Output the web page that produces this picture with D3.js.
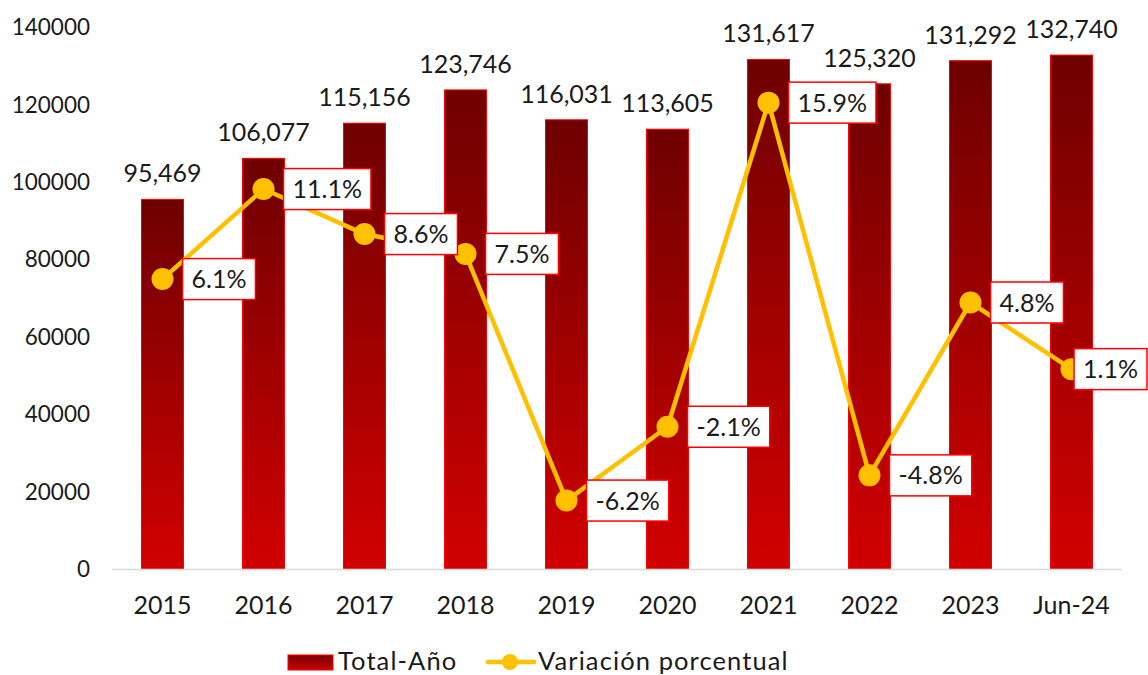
<!DOCTYPE html>
<html>
<head>
<meta charset="utf-8">
<script src="https://cdn.jsdelivr.net/npm/d3@7"></script>
<style>
  body { margin: 0; background: #ffffff; }
  svg { display: block; font-family: "Lato", "DejaVu Sans", sans-serif; }
  .tickLabel { font-size: 22.5px; fill: #1a1a1a; }
  .catLabel { font-size: 25px; fill: #1a1a1a; }
  .valueLabel { font-size: 25px; fill: #1a1a1a; }
  .pctLabel { font-size: 25px; fill: #1a1a1a; }
  .legendLabel { font-size: 25.5px; fill: #1a1a1a; letter-spacing: 1.1px; }
</style>
</head>
<body>
<script>
//chart data
var categories = ["2015", "2016", "2017", "2018", "2019", "2020", "2021", "2022", "2023", "Jun-24"];
var totals = [95469, 106077, 115156, 123746, 116031, 113605, 131617, 125320, 131292, 132740];
var variation = [6.1, 11.1, 8.6, 7.5, -6.2, -2.1, 15.9, -4.8, 4.8, 1.1];
var yTicks = [0, 20000, 40000, 60000, 80000, 100000, 120000, 140000];

var WIDTH = 1148;
var HEIGHT = 675;

var PLOT_LEFT = 112;
var PLOT_RIGHT = 1122;
var PLOT_TOP = 27;
var PLOT_BOTTOM = 569;

var BAR_WIDTH = 42;
var LINE_COLOR = "#ffc000";
var BAR_STROKE = "#ff0000";

var svg = d3.select("body").append("svg")
	.attr("width", WIDTH)
	.attr("height", HEIGHT);

//bar gradient, dark top to bright bottom
var defs = svg.append("defs");
var grad = defs.append("linearGradient")
	.attr("id", "barGrad")
	.attr("x1", 0).attr("y1", 0)
	.attr("x2", 0).attr("y2", 1);
grad.append("stop").attr("offset", "0%").attr("stop-color", "#6e0000");
grad.append("stop").attr("offset", "100%").attr("stop-color", "#d20000");

var legendGrad = defs.append("linearGradient")
	.attr("id", "legendGrad")
	.attr("x1", 0).attr("y1", 0)
	.attr("x2", 0).attr("y2", 1);
legendGrad.append("stop").attr("offset", "0%").attr("stop-color", "#7a0000");
legendGrad.append("stop").attr("offset", "100%").attr("stop-color", "#c40000");

var x = d3.scaleBand()
	.domain(categories)
	.range([PLOT_LEFT, PLOT_RIGHT]);

var y = d3.scaleLinear()
	.domain([0, 140000])
	.range([PLOT_BOTTOM, PLOT_TOP]);

//secondary axis for the percentage line (hidden)
var y2 = d3.scaleLinear()
	.domain([-10, 20.1])
	.range([PLOT_BOTTOM, PLOT_TOP]);

function cx(d) {
	return x(d) + x.bandwidth() / 2;
}

//y axis labels
svg.append("g")
	.selectAll("text")
	.data(yTicks)
	.enter()
	.append("text")
	.attr("class", "tickLabel")
	.attr("x", 90)
	.attr("y", function(d) { return y(d); })
	.attr("dy", "0.36em")
	.attr("text-anchor", "end")
	.text(function(d) { return d; });

//bars
svg.append("g")
	.selectAll("rect")
	.data(categories)
	.enter()
	.append("rect")
	.attr("x", function(d) { return cx(d) - BAR_WIDTH / 2; })
	.attr("y", function(d, i) { return y(totals[i]); })
	.attr("width", BAR_WIDTH)
	.attr("height", function(d, i) { return PLOT_BOTTOM - y(totals[i]); })
	.attr("fill", "url(#barGrad)")
	.attr("stroke", BAR_STROKE)
	.attr("stroke-width", 1);

//category axis line
svg.append("line")
	.attr("x1", PLOT_LEFT)
	.attr("x2", PLOT_RIGHT)
	.attr("y1", PLOT_BOTTOM + 0.5)
	.attr("y2", PLOT_BOTTOM + 0.5)
	.attr("stroke", "#d9d9d9")
	.attr("stroke-width", 1.5);

//category labels
svg.append("g")
	.selectAll("text")
	.data(categories)
	.enter()
	.append("text")
	.attr("class", "catLabel")
	.attr("x", function(d) { return cx(d); })
	.attr("y", 614)
	.attr("text-anchor", "middle")
	.text(function(d) { return d; });

//bar value labels
svg.append("g")
	.selectAll("text")
	.data(categories)
	.enter()
	.append("text")
	.attr("class", "valueLabel")
	.attr("x", function(d) { return cx(d); })
	.attr("y", function(d, i) { return y(totals[i]) - 17; })
	.attr("text-anchor", "middle")
	.text(function(d, i) { return d3.format(",")(totals[i]); });

//percentage line
var line = d3.line()
	.x(function(d, i) { return cx(categories[i]); })
	.y(function(d) { return y2(d); });

svg.append("path")
	.datum(variation)
	.attr("d", line)
	.attr("fill", "none")
	.attr("stroke", LINE_COLOR)
	.attr("stroke-width", 4.5)
	.attr("stroke-linejoin", "round");

svg.append("g")
	.selectAll("circle")
	.data(variation)
	.enter()
	.append("circle")
	.attr("cx", function(d, i) { return cx(categories[i]); })
	.attr("cy", function(d) { return y2(d); })
	.attr("r", 11)
	.attr("fill", LINE_COLOR);

//percentage labels in boxes, right of each point
var pctLabels = svg.append("g")
	.selectAll("g")
	.data(variation)
	.enter()
	.append("g");

pctLabels.each(function(d, i) {
	var g = d3.select(this);
	var px = cx(categories[i]);
	var py = y2(d);
	var txt = g.append("text")
		.attr("class", "pctLabel")
		.attr("dy", "0.36em")
		.text(d.toFixed(1) + "%");
	var w = txt.node().getComputedTextLength() + 18;
	var h = 41;
	var bx = Math.min(px + 20, WIDTH - 1 - w);
	g.insert("rect", "text")
		.attr("x", bx)
		.attr("y", py - h / 2)
		.attr("width", w)
		.attr("height", h)
		.attr("fill", "#ffffff")
		.attr("stroke", BAR_STROKE)
		.attr("stroke-width", 1.5);
	txt.attr("x", bx + w / 2)
		.attr("y", py)
		.attr("text-anchor", "middle");
});

//legend
var legend = svg.append("g");

legend.append("rect")
	.attr("x", 288)
	.attr("y", 655)
	.attr("width", 45)
	.attr("height", 15)
	.attr("fill", "url(#legendGrad)")
	.attr("stroke", BAR_STROKE)
	.attr("stroke-width", 1);

legend.append("text")
	.attr("class", "legendLabel")
	.attr("x", 338)
	.attr("y", 670)
	.text("Total-Año");

legend.append("line")
	.attr("x1", 488)
	.attr("x2", 534)
	.attr("y1", 662)
	.attr("y2", 662)
	.attr("stroke", LINE_COLOR)
	.attr("stroke-width", 4.5)
	.attr("stroke-linecap", "round");

legend.append("circle")
	.attr("cx", 510)
	.attr("cy", 662)
	.attr("r", 8)
	.attr("fill", LINE_COLOR);

legend.append("text")
	.attr("class", "legendLabel")
	.attr("x", 538)
	.attr("y", 670)
	.text("Variación porcentual");
</script>
</body>
</html>
